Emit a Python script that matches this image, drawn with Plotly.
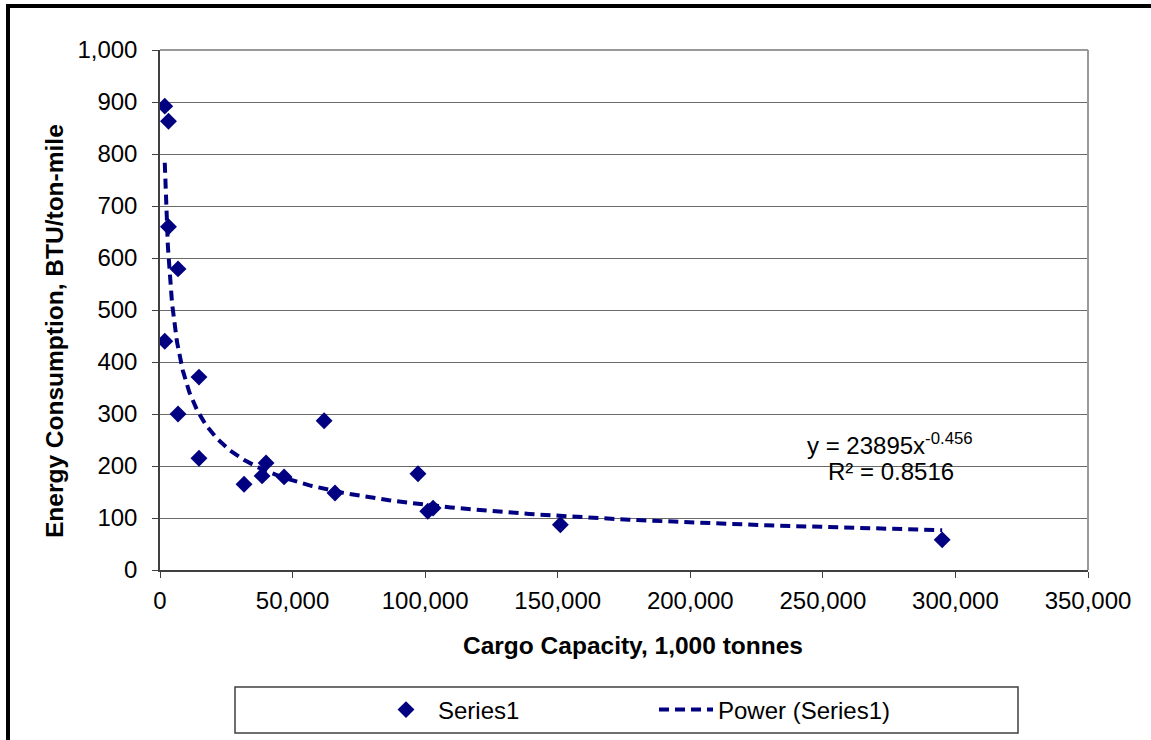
import numpy as np
import plotly.graph_objects as go

# ---- data ----
capacity = [1800, 3200, 3200, 6800, 1800, 14700, 6800, 14700, 31700, 38500,
            40000, 46800, 61900, 66000, 97300, 101000, 103000, 151000, 295000]
energy = [892, 863, 660, 579, 440, 371, 300, 215, 165, 181,
          206, 179, 287, 148, 185, 113, 119, 87, 58]

# power trendline coefficients shown on the chart
coef_a = 23895
coef_b = -0.456
r2_text = "0.8516"

x_ticks = [0, 50000, 100000, 150000, 200000, 250000, 300000, 350000]
y_ticks = [0, 100, 200, 300, 400, 500, 600, 700, 800, 900, 1000]

NAVY = "#000080"
FONT = "Liberation Sans, Arial, sans-serif"

trend_x = np.geomspace(min(capacity), max(capacity), 300)
trend_y = coef_a * trend_x ** coef_b

fig = go.Figure()
fig.add_trace(go.Scatter(
    x=capacity, y=energy, mode="markers", name="Series1",
    marker=dict(symbol="diamond", size=13, color=NAVY, line=dict(width=0)),
))
fig.add_trace(go.Scatter(
    x=trend_x, y=trend_y, mode="lines", name="Power (Series1)",
    line=dict(color=NAVY, width=4, dash="10px,6px"),
))

L, R, T, B = 160, 63, 50, 170
W, H = 1151, 740
pw, ph = W - L - R, H - T - B

def px_x(p):
    return (p - L) / pw

def px_y(p):
    return (H - B - p) / ph

fig.update_layout(
    width=W, height=H,
    margin=dict(l=L, r=R, t=T, b=B, pad=0, autoexpand=False),
    paper_bgcolor="white", plot_bgcolor="white",
    font=dict(family=FONT, size=24, color="black"),
    showlegend=True,
    legend=dict(
        orientation="h", x=px_x(374), xanchor="left",
        y=px_y(710), yanchor="middle",
        font=dict(family=FONT, size=24, color="black"),
        bgcolor="rgba(0,0,0,0)", borderwidth=0,
        itemwidth=54,
        entrywidth=211, entrywidthmode="pixels",
    ),
    xaxis=dict(
        range=[0, 350000], tickvals=x_ticks, tickformat=",",
        showgrid=False, zeroline=False,
        showline=True, linecolor="#404040", linewidth=1.5,
        mirror=False, ticks="outside", ticklen=6, tickcolor="#404040",
        ticklabelstandoff=2, automargin=False,
        tickfont=dict(size=24, family=FONT, color="black"),
    ),
    yaxis=dict(
        range=[0, 1000], tickvals=y_ticks, tickformat=",",
        showgrid=True, gridcolor="#6a6a6a", gridwidth=1.2,
        zeroline=False,
        showline=True, linecolor="#404040", linewidth=1.5,
        ticks="outside", ticklen=6, tickcolor="#404040",
        ticklabelstandoff=10, automargin=False,
        tickfont=dict(size=24, family=FONT, color="black"),
    ),
)

shapes = []
# plot-area top and right border (light gray)
shapes.append(dict(type="line", xref="paper", yref="paper", x0=0, x1=1, y0=1, y1=1,
                   line=dict(color="#999999", width=2)))
shapes.append(dict(type="line", xref="paper", yref="paper", x0=1, x1=1, y0=0, y1=1,
                   line=dict(color="#999999", width=2)))
# outer black frame (left & top)
shapes.append(dict(type="line", xref="paper", yref="paper",
                   x0=px_x(8), x1=px_x(8), y0=px_y(745), y1=px_y(4),
                   line=dict(color="black", width=4)))
shapes.append(dict(type="line", xref="paper", yref="paper",
                   x0=px_x(6), x1=px_x(1160), y0=px_y(6), y1=px_y(6),
                   line=dict(color="black", width=4)))
# legend box
shapes.append(dict(type="rect", xref="paper", yref="paper",
                   x0=px_x(235), x1=px_x(1018), y0=px_y(733), y1=px_y(687),
                   line=dict(color="#404040", width=1.5), fillcolor="rgba(0,0,0,0)"))
fig.update_layout(shapes=shapes)

annotations = [
    dict(text="<b>Cargo Capacity, 1,000 tonnes</b>", xref="paper", yref="paper",
         x=px_x(633), y=px_y(645), xanchor="center", yanchor="middle",
         showarrow=False, font=dict(family=FONT, size=24.5, color="black")),
    dict(text="<b>Energy Consumption, BTU/ton-mile</b>", xref="paper", yref="paper",
         x=px_x(54), y=px_y(331), xanchor="center", yanchor="middle", textangle=-90,
         showarrow=False, font=dict(family=FONT, size=24.5, color="black")),
    dict(text=f"y = {coef_a}x<sup>{coef_b}</sup>", xref="paper", yref="paper",
         x=px_x(890), y=px_y(444), xanchor="center", yanchor="middle",
         showarrow=False, font=dict(family=FONT, size=24, color="black")),
    dict(text=f"R² = {r2_text}", xref="paper", yref="paper",
         x=px_x(891), y=px_y(471), xanchor="center", yanchor="middle",
         showarrow=False, font=dict(family=FONT, size=24, color="black")),
]
fig.update_layout(annotations=annotations)

fig.write_html("out.html", config={"displayModeBar": False},
               post_script="document.body.style.margin='0';")
